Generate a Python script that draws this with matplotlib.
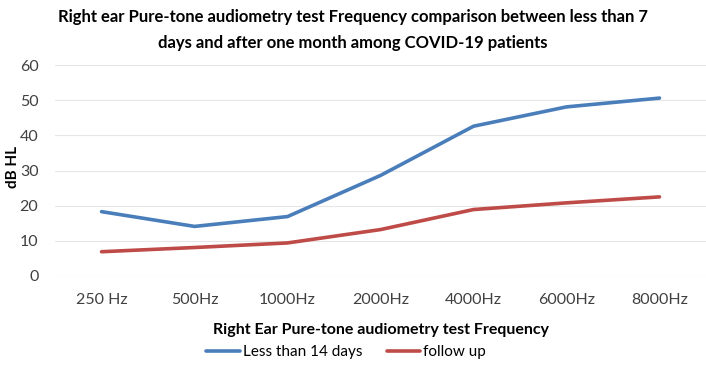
import matplotlib.pyplot as plt

# Data
frequencies = ["250 Hz", "500Hz", "1000Hz", "2000Hz", "4000Hz", "6000Hz", "8000Hz"]
less_than_14_days = [18.3, 14.1, 16.9, 28.6, 42.6, 48.1, 50.6]
follow_up = [6.9, 8.1, 9.4, 13.2, 18.9, 20.8, 22.5]
y_ticks = [0, 10, 20, 30, 40, 50, 60]

plt.rcParams['font.family'] = ['Lato', 'DejaVu Sans']

fig = plt.figure(figsize=(7.06, 3.76), dpi=100)
ax = fig.add_axes([0.078, 0.266, 0.922, 0.561])

x = range(len(frequencies))
ax.plot(x, less_than_14_days, color="#4A7EBB", lw=2.6, label="Less than 14 days",
        solid_capstyle="round")
ax.plot(x, follow_up, color="#BE4B48", lw=2.6, label="follow up",
        solid_capstyle="round")

ax.set_xlim(-0.5, len(frequencies) - 0.5)
ax.set_ylim(0, 60)
ax.set_yticks(y_ticks)
ax.set_xticks(list(x))
ax.set_xticklabels(frequencies)
ax.tick_params(axis="both", length=0, labelsize=11.5, colors="#404040")
ax.tick_params(axis="x", pad=12)
ax.tick_params(axis="y", pad=12)
ax.grid(axis="y", color="#E6E6E6", lw=0.8)
ax.set_axisbelow(True)
for s in ax.spines.values():
    s.set_visible(False)

fig.text(0.018, 0.555, "dB HL", rotation=90, fontsize=11, fontweight="bold",
         ha="center", va="center")
ax.set_xlabel("Right Ear Pure-tone audiometry test Frequency", fontsize=11.5,
              fontweight="bold", labelpad=12)

fig.suptitle("Right ear Pure-tone audiometry test Frequency comparison between less than 7\n"
             "days and after one month among COVID-19 patients",
             fontsize=12, fontweight="bold", y=0.975, x=0.5, linespacing=1.75)

ax.legend(loc="center", bbox_to_anchor=(0.447, -0.36), ncol=2, frameon=False,
          fontsize=11, handlelength=2.2, columnspacing=1.6, handletextpad=0.2)

fig.savefig("out.png", dpi=100)
